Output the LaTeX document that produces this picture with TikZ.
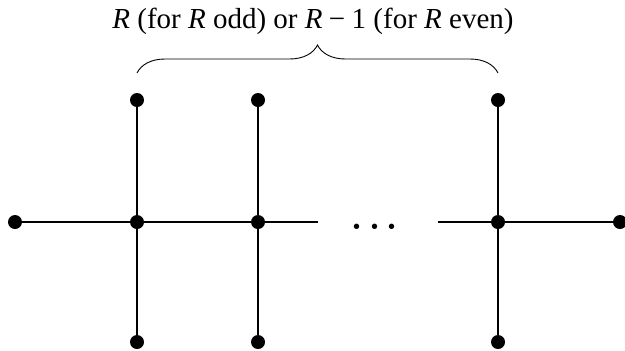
\documentclass[tikz,border=0pt]{standalone}
\usepackage{amsmath}
\usepackage{fontspec}
\setmainfont{Liberation Serif}
\usetikzlibrary{positioning, decorations.pathreplacing}
\begin{document}
\begin{tikzpicture}[
  x=0.5pt, y=-0.5pt,
  dot/.style={circle, fill, inner sep=0pt, minimum size=7pt},
  edge/.style={line width=0.7pt},
]
\useasboundingbox (0,0) rectangle (625,350);
  % horizontal spine
  \node[dot] (l) at (15,222) {};
  \node[dot] (m1) at (137,222) {};
  \node[dot] (m2) at (258,222) {};
  \node[dot] (m3) at (498,222) {};
  \node[dot] (r) at (620,222) {};
  \node[font=\fontsize{16.5}{20}\selectfont\boldmath] (dots) at (378,227) {$\cdots$};
  \coordinate (gapl) at (318,222);
  \coordinate (gapr) at (438,222);
\draw[edge] (l) -- (m1) -- (m2) -- (gapl);
\draw[edge] (gapr) -- (m3) -- (r);

  % vertical legs
  \node[dot] (t1) at (137,100) {};
  \node[dot] (t2) at (258,100) {};
  \node[dot] (t3) at (498,100) {};
  \node[dot] (b1) at (137,342) {};
  \node[dot] (b2) at (258,342) {};
  \node[dot] (b3) at (498,342) {};
\draw[edge] (t1) -- (m1) -- (b1);
\draw[edge] (t2) -- (m2) -- (b2);
\draw[edge] (t3) -- (m3) -- (b3);

  % brace with count
  \coordinate (bl) at (137,73);
  \coordinate (br) at (498,73);
\draw[line width=0.45pt, decorate, decoration={brace, amplitude=14pt}] (bl) -- (br);
\node[font=\fontsize{14.5}{17}\selectfont] (lab) at (313,21)
  {\textit{R} (for \textit{R} odd) or \textit{R}\hspace{0.22em}−\hspace{0.22em}1 (for \textit{R} even)};
\end{tikzpicture}
\end{document}
